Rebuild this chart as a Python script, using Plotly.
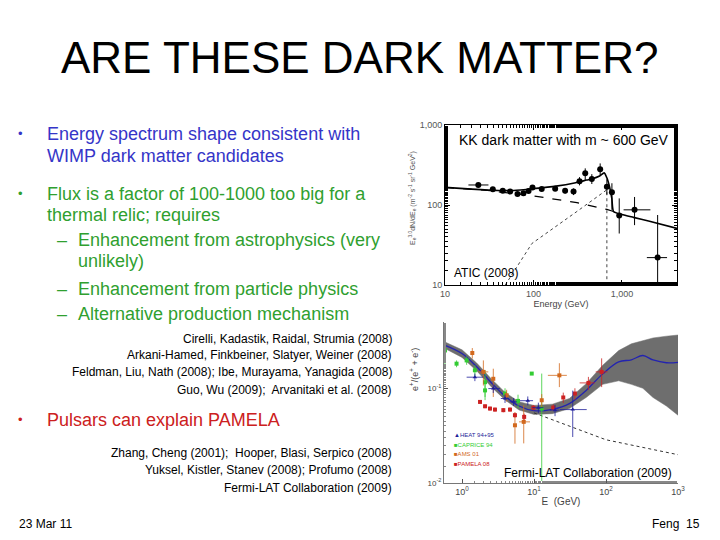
import plotly.graph_objects as go

FONT = "Liberation Sans, Arial, sans-serif"

# ---------------- ATIC (2008) electron spectrum ----------------
atic_E = [23.8, 34.7, 45, 54.5, 66, 77, 88, 97.5, 124, 176, 228, 284, 332, 385, 457, 568, 676, 771, 933, 1390, 2535]
atic_F = [178, 157, 151, 147, 137, 140, 150, 166, 158, 160, 151, 147, 198, 249, 211, 279, 169, 144, 74, 87, 22]
atic_err_up = [8, 8, 7, 7, 7, 7, 8, 9, 9, 10, 12, 14, 25, 38, 32, 52, 40, 43, 47, 39, 53]
atic_err_dn = [8, 8, 7, 7, 7, 7, 8, 9, 9, 10, 12, 14, 22, 44, 28, 42, 34, 57, 30, 31, 20]
atic_xerr_up = [7.2, 0, 0, 0, 0, 0, 0, 0, 0, 0, 0, 0, 0, 0, 0, 0, 0, 0, 0, 710, 705]
atic_xerr_dn = [5.4, 0, 0, 0, 0, 0, 0, 0, 0, 0, 0, 0, 0, 0, 0, 0, 0, 0, 0, 345, 620]

total_E = [10, 20, 40, 60, 100, 180, 300, 400, 460, 560, 630, 680, 725, 770, 805, 1000, 1350, 2000, 4200]
total_F = [166, 158, 152, 152, 160, 172, 190, 205, 212, 230, 252, 215, 169, 120, 83, 76, 70, 63, 51]
bkg_E = [10, 30, 100, 310, 676, 805]
bkg_F = [166, 152, 130, 107, 88, 83]
kk_E = [48, 96, 310, 676, 676]
kk_F = [10, 33, 83, 155, 10]

# ---------------- Fermi-LAT (2009) positron fraction ----------------
band_E = [0.57, 1, 1.6, 2.6, 4, 6.2, 10, 18, 31, 53, 90, 150, 225, 325, 450, 690, 1000]
band_hi = [0.31, 0.255, 0.185, 0.124, 0.09, 0.072, 0.066, 0.068, 0.078, 0.112, 0.175, 0.25, 0.295, 0.32, 0.34, 0.355, 0.365]
band_lo = [0.265, 0.212, 0.153, 0.102, 0.075, 0.059, 0.053, 0.054, 0.061, 0.08, 0.11, 0.12, 0.11, 0.1, 0.08, 0.065, 0.052]
model_F = [0.286, 0.233, 0.169, 0.113, 0.082, 0.065, 0.058, 0.06, 0.069, 0.095, 0.142, 0.19, 0.2, 0.222, 0.199, 0.186, 0.188]
sec_E = [10, 34, 100, 1000]
sec_F = [0.055, 0.039, 0.0286, 0.0199]

heat_E = [1.51, 2.72, 3.96, 5.2, 8.2, 11.5, 19.6, 34.5]
heat_F = [0.131, 0.0993, 0.078, 0.072, 0.074, 0.0625, 0.0588, 0.0596]
heat_up = [0.012, 0.01, 0.008, 0.007, 0.008, 0.008, 0.008, 0.035]
heat_dn = [0.012, 0.01, 0.008, 0.007, 0.008, 0.008, 0.008, 0.029]
heat_xup = [0.47, 0.65, 0.5, 0.6, 1.5, 2, 3, 19.5]
heat_xdn = [0.35, 0.4, 0.5, 0.6, 1.8, 2, 3, 11.5]

caprice_E = [0.58, 0.84, 1.16, 1.51, 2.09, 2.09, 3.96, 6.0, 9.3, 12.8]
caprice_F = [0.251, 0.182, 0.197, 0.155, 0.116, 0.095, 0.088, 0.0736, 0.143, 0.061]
caprice_up = [0.096, 0.015, 0.02, 0.02, 0.04, 0.02, 0.012, 0.012, 0.0, 0.082]
caprice_dn = [0.09, 0.015, 0.02, 0.02, 0.035, 0.02, 0.012, 0.012, 0.0, 0.0505]

ams_E = [1.39, 1.98, 2.72, 4.17, 5.44, 7.2, 12.8, 22.5]
ams_F = [0.236, 0.149, 0.126, 0.0844, 0.0407, 0.0442, 0.0748, 0.137]
ams_up = [0.03, 0.048, 0.035, 0.012, 0.0155, 0.022, 0.012, 0.047]
ams_dn = [0.03, 0.042, 0.045, 0.012, 0.0147, 0.018, 0.012, 0.034]
ams_xup = [0, 0.34, 0, 0, 0, 1.6, 0, 6.1]
ams_xdn = [0, 0.29, 0, 0, 0, 1.0, 0, 6.9]

pamela_E = [1.78, 2.09, 2.45, 2.87, 3.75, 4.64, 5.44, 7.3, 9.8, 18.5, 25.5, 37, 57, 87]
pamela_F = [0.0718, 0.0646, 0.0611, 0.0596, 0.0588, 0.0596, 0.052, 0.0499, 0.0625, 0.0625, 0.08, 0.088, 0.114, 0.149]
pamela_up = [0.003, 0.003, 0.003, 0.003, 0.003, 0.003, 0.003, 0.004, 0.004, 0.005, 0.01, 0.012, 0.018, 0.058]
pamela_dn = [0.003, 0.003, 0.003, 0.003, 0.003, 0.003, 0.003, 0.004, 0.004, 0.005, 0.01, 0.012, 0.018, 0.046]
pamela_xup = [0, 0, 0, 0, 0, 0, 0, 0, 0, 0, 0, 0, 13, 18]
pamela_xdn = [0, 0, 0, 0, 0, 0, 0, 0, 0, 0, 0, 0, 14, 15]

# ---------------- slide texts ----------------
title_text = "ARE THESE DARK MATTER?"
bullet1 = ["Energy spectrum shape consistent with", "WIMP dark matter candidates"]
bullet2 = ["Flux is a factor of 100-1000 too big for a", "thermal relic; requires"]
sub_bullets = [["Enhancement from astrophysics (very", "unlikely)"],
               ["Enhancement from particle physics"],
               ["Alternative production mechanism"]]
refs1 = ["Cirelli, Kadastik, Raidal, Strumia (2008)",
         "Arkani-Hamed, Finkbeiner, Slatyer, Weiner (2008)",
         "Feldman, Liu, Nath (2008); Ibe, Murayama, Yanagida (2008)",
         "Guo, Wu (2009);  Arvanitaki et al. (2008)"]
bullet3 = "Pulsars can explain PAMELA"
refs2 = ["Zhang, Cheng (2001);  Hooper, Blasi, Serpico (2008)",
         "Yuksel, Kistler, Stanev (2008); Profumo (2008)",
         "Fermi-LAT Collaboration (2009)"]
legend_names = ["HEAT 94+95", "CAPRICE 94", "AMS 01", "PAMELA 08"]

BLUE_TXT = "#3535C8"
GREEN_TXT = "#2FA02F"
RED_TXT = "#CC2020"
C_HEAT = "#1F1F9A"
C_CAP = "#33CC33"
C_AMS = "#D2691E"
C_PAM = "#CC2222"

# page body adds an 8px margin: figure is placed at (8, 8) in the window
OFF = 8
W, H = 720 - 2 * OFF, 540 - 2 * OFF
def px(x):
    return (x - OFF) / W
def py(y):
    return 1 - (y - OFF) / H

fig = go.Figure()

# ATIC panel
fig.add_trace(go.Scatter(x=bkg_E, y=bkg_F, mode="lines", line=dict(color="black", width=1.2, dash="dash"),
                         xaxis="x", yaxis="y", showlegend=False))
fig.add_trace(go.Scatter(x=kk_E, y=kk_F, mode="lines", line=dict(color="#444", width=1, dash="dot"),
                         xaxis="x", yaxis="y", showlegend=False))
fig.add_trace(go.Scatter(x=total_E, y=total_F, mode="lines", line=dict(color="black", width=1.6, shape="spline", smoothing=0.6),
                         xaxis="x", yaxis="y", showlegend=False))
fig.add_trace(go.Scatter(x=atic_E, y=atic_F, mode="markers",
                         marker=dict(color="black", size=6),
                         error_y=dict(type="data", array=atic_err_up, arrayminus=atic_err_dn, color="black", thickness=1, width=0),
                         error_x=dict(type="data", array=atic_xerr_up, arrayminus=atic_xerr_dn, color="black", thickness=1, width=0),
                         xaxis="x", yaxis="y", showlegend=False))

# Fermi panel
fig.add_trace(go.Scatter(x=band_E, y=band_lo, mode="lines", line=dict(color="#707070", width=0.5),
                         xaxis="x2", yaxis="y2", showlegend=False))
fig.add_trace(go.Scatter(x=band_E, y=band_hi, mode="lines", line=dict(color="#707070", width=0.5),
                         fill="tonexty", fillcolor="#6E6E6E", xaxis="x2", yaxis="y2", showlegend=False))
fig.add_trace(go.Scatter(x=sec_E, y=sec_F, mode="lines", line=dict(color="#333", width=1, dash="dot"),
                         xaxis="x2", yaxis="y2", showlegend=False))
fig.add_trace(go.Scatter(x=band_E, y=model_F, mode="lines", line=dict(color="#2323B0", width=1.3, shape="spline"),
                         xaxis="x2", yaxis="y2", showlegend=False))

def series(x, y, up, dn, color, symbol, name, xup=None, xdn=None):
    kw = {}
    if xup is not None:
        kw["error_x"] = dict(type="data", array=xup, arrayminus=xdn, color=color, thickness=0.8, width=0)
    return go.Scatter(x=x, y=y, mode="markers", name=name,
                      marker=dict(color=color, size=4, symbol=symbol),
                      error_y=dict(type="data", array=up, arrayminus=dn, color=color, thickness=0.8, width=0),
                      xaxis="x2", yaxis="y2", showlegend=False, **kw)

fig.add_trace(series(caprice_E, caprice_F, caprice_up, caprice_dn, C_CAP, "square", legend_names[1]))
fig.add_trace(series(ams_E, ams_F, ams_up, ams_dn, C_AMS, "square", legend_names[2], ams_xup, ams_xdn))
fig.add_trace(series(pamela_E, pamela_F, pamela_up, pamela_dn, C_PAM, "square", legend_names[3], pamela_xup, pamela_xdn))
fig.add_trace(series(heat_E, heat_F, heat_up, heat_dn, C_HEAT, "triangle-up", legend_names[0], heat_xup, heat_xdn))

tickfont = dict(family=FONT, size=9, color="#555")
fig.update_layout(
    width=W, height=H,
    margin=dict(l=0, r=0, t=0, b=0, autoexpand=False),
    paper_bgcolor="white", plot_bgcolor="rgba(0,0,0,0)",
    font=dict(family=FONT),
    xaxis=dict(type="log", range=[1, 3.623], domain=[px(445), px(677)], anchor="y",
               tickvals=[10, 100, 1000], ticktext=["10", "100", "1,000"],
               ticks="inside", ticklen=5, tickcolor="black", mirror="ticks", showline=True, linecolor="black",
               linewidth=1, showgrid=False, zeroline=False, tickfont=tickfont,
               minor=dict(ticks="inside", ticklen=3, tickcolor="black", showgrid=False),
               title=dict(text="Energy (GeV)", font=dict(family=FONT, size=9, color="#444"), standoff=2)),
    yaxis=dict(type="log", range=[1, 3], domain=[py(285), py(125)], anchor="x",
               tickvals=[10, 100, 1000], ticktext=["10", "100", "1,000"],
               ticks="inside", ticklen=5, tickcolor="black", mirror="ticks", showline=True, linecolor="black",
               linewidth=1, showgrid=False, zeroline=False, tickfont=tickfont,
               minor=dict(ticks="inside", ticklen=3, tickcolor="black", showgrid=False)),
    xaxis2=dict(type="log", range=[-0.25, 3], domain=[px(444), px(678)], anchor="y2",
                tickvals=[1, 10, 100, 1000],
                ticktext=["10<sup>0</sup>", "10<sup>1</sup>", "10<sup>2</sup>", "10<sup>3</sup>"],
                ticks="inside", ticklen=4, tickcolor="#555", showline=True, linecolor="#777",
                linewidth=1, showgrid=False, zeroline=False, tickfont=dict(family=FONT, size=9, color="#444"),
                minor=dict(ticks="inside", ticklen=2, tickcolor="#888", showgrid=False),
                title=dict(text="E  (GeV)", font=dict(family=FONT, size=10, color="#444"), standoff=2)),
    yaxis2=dict(type="log", range=[-2, -0.30], domain=[py(483), py(322)], anchor="x2",
                tickvals=[0.01, 0.1], ticktext=["10<sup>-2</sup>", "10<sup>-1</sup>"],
                ticks="inside", ticklen=4, tickcolor="#555", showline=True, linecolor="#777",
                linewidth=1, showgrid=False, zeroline=False, tickfont=dict(family=FONT, size=8, color="#444"),
                minor=dict(ticks="inside", ticklen=2, tickcolor="#888", showgrid=False)),
)

ann = []
def txt(x, y, s, size, color="black", xanchor="left", **kw):
    ann.append(dict(x=px(x), y=py(y), xref="paper", yref="paper", text=s, showarrow=False,
                    xanchor=xanchor, yanchor="middle", font=dict(family=FONT, size=size, color=color), **kw))

txt(359, 57, title_text, 44, "black", "center")

# bullets
txt(20, 133, "•", 13, BLUE_TXT, "center")
txt(45, 134, bullet1[0], 18, BLUE_TXT)
txt(45, 156, bullet1[1], 18, BLUE_TXT)
txt(20, 193, "•", 13, GREEN_TXT, "center")
txt(45, 194, bullet2[0], 18, GREEN_TXT)
txt(45, 215, bullet2[1], 18, GREEN_TXT)
sub_y = [[240, 261], [289], [314]]
for lines, ys in zip(sub_bullets, sub_y):
    txt(62, ys[0], "–", 18, GREEN_TXT, "center")
    for s, yy in zip(lines, ys):
        txt(76, yy, s, 18, GREEN_TXT)

for s, yy in zip(refs1, [339, 355, 372, 390]):
    txt(394, yy, s, 12, "black", "right")

txt(20, 419, "•", 13, RED_TXT, "center")
txt(45, 420, bullet3, 18, RED_TXT)
for s, yy in zip(refs2, [453, 470, 488]):
    txt(394, yy, s, 12, "black", "right")

txt(17, 524, "23 Mar 11", 12)
txt(650, 524, "Feng", 12)
txt(702, 524, "15", 12, "black", "right")

# in-panel labels
txt(457, 140, "KK dark matter with m ~ 600 GeV", 14)
txt(452, 273, "ATIC (2008)", 12)
txt(502, 473, "Fermi-LAT Collaboration (2009)", 12)

txt(412, 198, "E<sub>e</sub><sup>3.0</sup>dN/dE<sub>e</sub> (m<sup>-2</sup> s<sup>-1</sup> sr<sup>-1</sup> GeV<sup>2</sup>)",
    7, "#555", "center", textangle=-90)
txt(414, 370, "e<sup>+</sup>/(e<sup>+</sup> + e<sup>-</sup>)", 9, "#444", "center", textangle=-90)

leg_cols = [C_HEAT, C_CAP, C_AMS, C_PAM]
leg_sym = ["▲", "■", "■", "■"]
for name, col, sym, yy in zip(legend_names, leg_cols, leg_sym, [435, 445, 454, 464]):
    txt(452, yy, sym + name, 6, col)

fig.update_layout(annotations=ann)
fig.write_html("out.html")
